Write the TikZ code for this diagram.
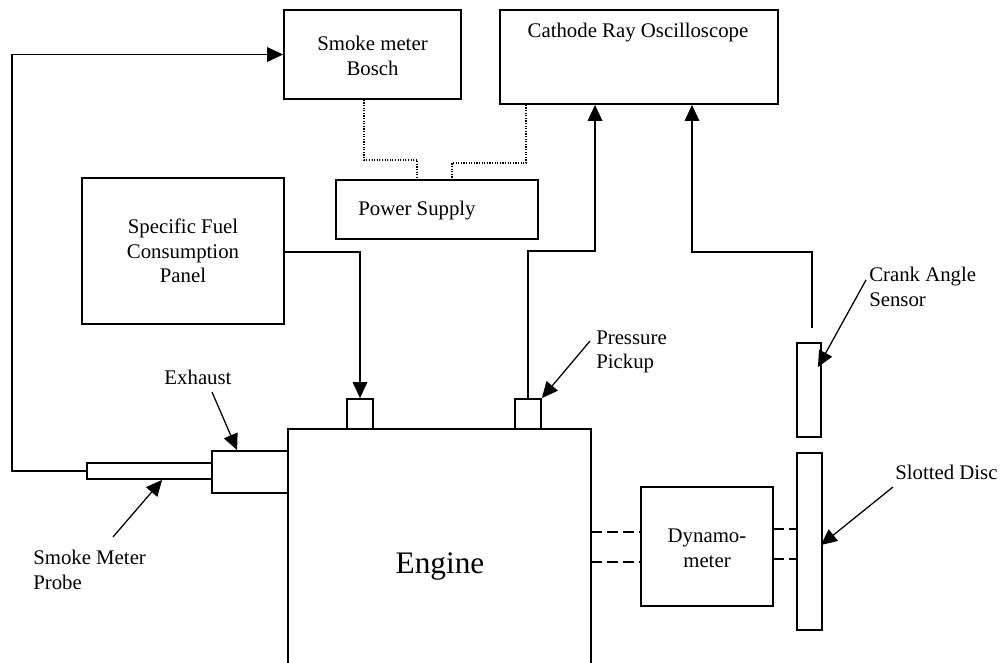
\documentclass[tikz,border=0pt]{standalone}
\usepackage{fontspec}
\setmainfont{Liberation Serif}
\usetikzlibrary{arrows.meta,fit,calc}
\begin{document}
\begin{tikzpicture}[x=0.75pt,y=-0.75pt,
  box/.style={draw, line width=1.35pt, inner sep=0pt},
  ghost/.style={inner sep=0pt},
  conn/.style={line width=0.95pt},
  arr/.style={conn, -{Triangle[length=12pt,width=11pt]}},
  dots/.style={line width=0.85pt, dash pattern=on 0.85pt off 1.1pt},
  shaft/.style={line width=1.1pt, dash pattern=on 8pt off 4pt},
  lbl/.style={font=\fontsize{15.6}{18.5}\selectfont, align=center, inner sep=0pt},
  big/.style={font=\fontsize{23.5}{28}\selectfont, inner sep=0pt}]
\useasboundingbox (0,0) rectangle (1000,663);

% boxes
\node[box, fit={(284,10) (461,99)}] (smoke) {};
\node[box, fit={(500,10) (778,104)}] (cro) {};
\node[box, fit={(336,180) (538,239)}] (power) {};
\node[box, fit={(82,178) (284,324)}] (sfc) {};
\node[box, fit={(347,399) (373,429)}] (fuel) {};
\node[box, fit={(515,399) (541,429)}] (pp) {};
\node[box, fit={(212,451) (288,493)}] (exh) {};
\node[box, fit={(87,463) (212,479)}] (probe) {};
\node[box, fit={(641,487) (773,606)}] (dyno) {};
\node[box, fit={(797,453) (822,630)}] (disc) {};
\node[box, fit={(797,343) (821,437)}] (sensor) {};
\node[ghost, fit={(288,429) (591,663)}] (engine) {};
\draw[line width=1.35pt] (engine.south west) -- (engine.north west) -- (engine.north east) -- (engine.south east);

% shafts
\draw[shaft] (591,532) -- (641,532);
\draw[shaft] (591,562) -- (641,562);
\draw[shaft] (773,529) -- (797,529);
\draw[shaft] (773,559) -- (797,559);

% texts
\node[lbl] (tsmoke) at (372.5,56) {Smoke meter\\Bosch};
\node[lbl] (tcro) at (638,33) {Cathode Ray Oscilloscope};
\node[lbl] (tpower) at (417,211) {Power Supply};
\node[lbl] (tsfc) at (183,251) {Specific Fuel\\Consumption\\Panel};
\node[lbl] (tdyno) at (707,548) {Dynamo-\\meter};
\node[big] (tengine) at (440,567) {Engine};
\node[lbl] (texh) at (198,377) {Exhaust};
\node[lbl, align=left, anchor=west] (tprobe) at (33,570) {Smoke Meter\\Probe};
\node[lbl, align=left, anchor=west] (tpp) at (596,352) {Pressure\\Pickup};
\node[lbl, align=left, anchor=west] (tcas) at (869,287) {Crank Angle\\Sensor};
\node[lbl, anchor=west] (tdisc) at (895,472) {Slotted Disc};

% coordinates
\coordinate (loopx) at (12,0);
\coordinate (fuelrow) at (0,252);
\coordinate (p1) at (595,251);
\coordinate (c1) at (812,328);
\coordinate (c2) at (692,252);
\coordinate (d1) at (364,160);
\coordinate (d2) at (417,160);
\coordinate (d3) at (526,163);
\coordinate (d4) at (452,163);

% connectors
\draw[arr] (probe.west) -| (loopx |- smoke.west) -- (smoke.west);
\draw[arr] (sfc.east |- fuelrow) -| (fuel.north);
\draw[arr] (pp.north) |- (p1) -- (cro.south -| p1);
\draw[arr] (c1) |- (c2) -- (cro.south -| c2);

% dotted power lines
\draw[dots] (smoke.south -| d1) -- (d1) -- (d2) -- (power.north -| d2);
\draw[dots] (cro.south -| d3) -- (d3) -- (d4) -- (power.north -| d4);

% annotation arrows
\coordinate (aexh) at (212,392);
\coordinate (aprobe) at (113,537);
\coordinate (app) at (590,341);
\coordinate (acas) at (866,280);
\coordinate (adisc) at (893,487);
\draw[arr] (aexh) -- ($(exh.north west)+(26,0)$);
\draw[arr] (aprobe) -- ($(probe.south west)+(76,0)$);
\draw[arr] (app) -- (pp.north east);
\draw[arr] (acas) -- ($(sensor.north east)+(-4,25)$);
\draw[arr] (adisc) -- ($(disc.north east)+(-2,93)$);
\end{tikzpicture}
\end{document}
